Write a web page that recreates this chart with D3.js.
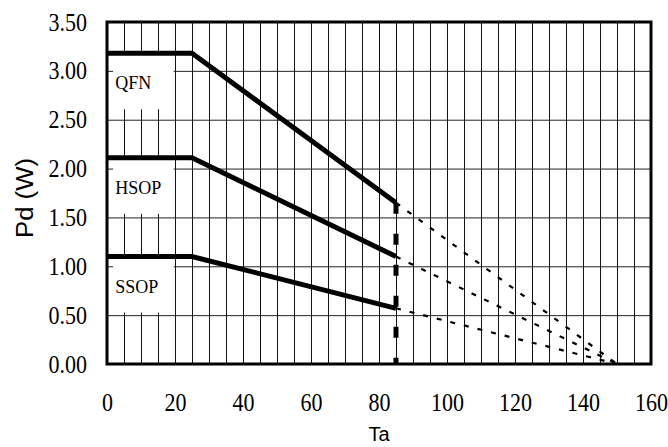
<!DOCTYPE html>
<html>
<head>
<meta charset="utf-8">
<script src="https://cdn.jsdelivr.net/npm/d3@7"></script>
<style>
  body { margin: 0; background: #fff; }
  svg { display: block; }
</style>
</head>
<body>
<div id="vis"></div>
<script>
const FRAME_WIDTH = 668;
const FRAME_HEIGHT = 447;
const PLOT = {left: 107, right: 651, top: 22, bottom: 364};

// data
const TA = [0, 25, 85];
const TA_EXT = [85, 150];
const PACKAGES = ["QFN", "HSOP", "SSOP"];
const QFN = [3.18, 3.18, 1.65];
const HSOP = [2.11, 2.11, 1.10];
const SSOP = [1.10, 1.10, 0.57];
const QFN_EXT = [1.65, 0];
const HSOP_EXT = [1.10, 0];
const SSOP_EXT = [0.57, 0];
const X_TICKS = [0, 20, 40, 60, 80, 100, 120, 140, 160];
const Y_TICKS = [0, 0.5, 1.0, 1.5, 2.0, 2.5, 3.0, 3.5];
const TJ_LIMIT = 85;   // dashed vertical marker

const SERIES = [QFN, HSOP, SSOP];
const SERIES_EXT = [QFN_EXT, HSOP_EXT, SSOP_EXT];

const SERIF = "'Liberation Serif', 'Times New Roman', serif";
const SANS = "'Liberation Sans', Arial, sans-serif";
const SQUEEZE = 0.88;  // digits in the original are narrow and tall

const FRAME = d3.select("#vis")
  .append("svg")
    .attr("width", FRAME_WIDTH)
    .attr("height", FRAME_HEIGHT);

const X_SCALE = d3.scaleLinear().domain([0, 160]).range([PLOT.left, PLOT.right]);
const Y_SCALE = d3.scaleLinear().domain([0, 3.5]).range([PLOT.bottom, PLOT.top]);

// vertical grid every 5 deg
FRAME.append("g")
    .attr("transform", "translate(0," + PLOT.bottom + ")")
    .call(d3.axisBottom(X_SCALE).tickValues(d3.range(0, 161, 5))
          .tickSize(-(PLOT.bottom - PLOT.top)).tickFormat(""))
    .call(g => g.select(".domain").remove())
    .call(g => g.selectAll("line").attr("stroke", "#111").attr("stroke-width", 1));

// horizontal grid
FRAME.append("g")
    .attr("transform", "translate(" + PLOT.left + ",0)")
    .call(d3.axisLeft(Y_SCALE).tickValues(Y_TICKS)
          .tickSize(-(PLOT.right - PLOT.left)).tickFormat(""))
    .call(g => g.select(".domain").remove())
    .call(g => g.selectAll("line").attr("stroke", "#222").attr("stroke-width", 1));

// white label boxes cover the grid
const BOX_H = 56;
FRAME.selectAll(".lbox")
  .data(SERIES)
  .enter()
  .append("rect")
    .attr("x", X_SCALE(1.8))
    .attr("y", d => Y_SCALE(d[0]))
    .attr("width", X_SCALE(19.6) - X_SCALE(1.8))
    .attr("height", BOX_H)
    .attr("fill", "#fff");

FRAME.selectAll(".lbl")
  .data(SERIES)
  .enter()
  .append("text")
    .attr("x", X_SCALE(2.4))
    .attr("y", d => Y_SCALE(d[0]) + 36)
    .attr("font-family", SERIF)
    .attr("font-size", 18)
    .text((d, i) => PACKAGES[i]);

// axes with tick labels
FRAME.append("g")
    .attr("transform", "translate(0," + PLOT.bottom + ")")
    .call(d3.axisBottom(X_SCALE).tickValues(X_TICKS).tickSize(0).tickPadding(29))
    .call(g => g.select(".domain").remove())
    .selectAll("text")
      .attr("font-family", SERIF)
      .attr("font-size", 25)
      .attr("transform", "scale(" + SQUEEZE + ",1)")
      .attr("fill", "#000");

FRAME.append("g")
    .attr("transform", "translate(" + PLOT.left + ",0)")
    .call(d3.axisLeft(Y_SCALE).tickValues(Y_TICKS).tickSize(0)
          .tickFormat(d3.format(".2f")))
    .call(g => g.select(".domain").remove())
    .selectAll("text")
      .attr("x", -20 / SQUEEZE)
      .attr("font-family", SERIF)
      .attr("font-size", 25)
      .attr("transform", "scale(" + SQUEEZE + ",1)")
      .attr("fill", "#000");

// frame
FRAME.append("rect")
    .attr("x", PLOT.left)
    .attr("y", PLOT.top)
    .attr("width", PLOT.right - PLOT.left)
    .attr("height", PLOT.bottom - PLOT.top)
    .attr("fill", "none")
    .attr("stroke", "#000")
    .attr("stroke-width", 3);

const LINE = d3.line()
    .x(d => X_SCALE(d[0]))
    .y(d => Y_SCALE(d[1]));

// extrapolated dashed parts
FRAME.selectAll(".ext")
  .data(SERIES_EXT)
  .enter()
  .append("path")
    .attr("d", d => LINE(d.map((v, i) => [TA_EXT[i], v])))
    .attr("fill", "none")
    .attr("stroke", "#000")
    .attr("stroke-width", 2.2)
    .attr("stroke-dasharray", "5,9");

// thick derating curves
FRAME.selectAll(".curve")
  .data(SERIES)
  .enter()
  .append("path")
    .attr("d", d => LINE(d.map((v, i) => [TA[i], v])))
    .attr("fill", "none")
    .attr("stroke", "#000")
    .attr("stroke-width", 5);

// vertical dashed marker at 85
FRAME.append("line")
    .attr("x1", X_SCALE(TJ_LIMIT))
    .attr("x2", X_SCALE(TJ_LIMIT))
    .attr("y1", Y_SCALE(QFN[2]))
    .attr("y2", Y_SCALE(0))
    .attr("stroke", "#000")
    .attr("stroke-width", 5)
    .attr("stroke-dasharray", "11,20");

// axis titles
FRAME.append("text")
    .attr("x", (PLOT.left + PLOT.right) / 2)
    .attr("y", 441)
    .attr("text-anchor", "middle")
    .attr("font-family", SANS)
    .attr("font-size", 20)
    .text("Ta");

FRAME.append("text")
    .attr("transform", "translate(33,198) rotate(-90)")
    .attr("text-anchor", "middle")
    .attr("font-family", SANS)
    .attr("font-size", 23)
    .attr("textLength", 80)
    .attr("lengthAdjust", "spacingAndGlyphs")
    .text("Pd (W)");
</script>
</body>
</html>
